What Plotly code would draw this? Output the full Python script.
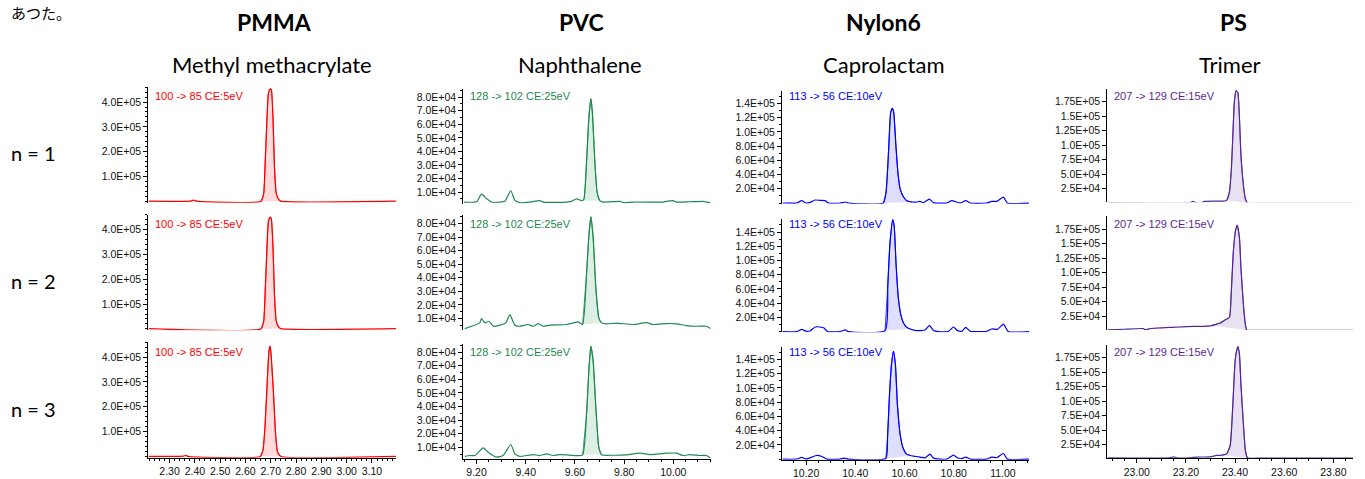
import numpy as np
import plotly.graph_objects as go

W, H = 1365, 479

compounds = ["PMMA", "PVC", "Nylon6", "PS"]
subtitles = ["Methyl methacrylate", "Naphthalene", "Caprolactam", "Trimer"]
row_labels = ["n = 1", "n = 2", "n = 3"]
transitions = ["100 -> 85 CE:5eV", "128 -> 102 CE:25eV", "113 -> 56 CE:10eV", "207 -> 129 CE:15eV"]
header_note = "あつた。"

# ---------------- PMMA (intensity in 1e5 counts) ----------------
pmma_t1 = [2.217, 2.382, 2.395, 2.408, 2.662, 2.672, 2.678, 2.685, 2.691, 2.698, 2.702, 2.709, 2.715, 2.722, 2.731, 2.740, 3.195]
pmma_i1 = [0.01, 0.01, 0.05, 0.01, 0.01, 0.31, 1.57, 3.31, 4.37, 4.53, 4.51, 3.31, 1.31, 0.31, 0.08, 0.01, 0.01]
pmma_t2 = [2.217, 2.662, 2.672, 2.678, 2.685, 2.691, 2.698, 2.702, 2.709, 2.715, 2.722, 2.731, 2.740, 3.195]
pmma_i2 = [0.01, 0.01, 0.30, 1.50, 3.25, 4.35, 4.50, 4.45, 3.25, 1.30, 0.30, 0.08, 0.01, 0.01]
pmma_t3 = [2.217, 2.355, 2.365, 2.373, 2.659, 2.669, 2.677, 2.685, 2.693, 2.698, 2.703, 2.711, 2.719, 2.727, 2.740, 3.195]
pmma_i3 = [0.0, 0.01, 0.04, 0.0, 0.0, 0.24, 1.17, 2.77, 4.24, 4.44, 3.84, 2.51, 0.91, 0.17, 0.0, 0.0]
pmma_peak = [(2.662, 2.740), (2.662, 2.740), (2.659, 2.740)]

# ---------------- PVC (intensity in 1e4 counts) ----------------
pvc_t1 = [9.148, 9.200, 9.220, 9.241, 9.261, 9.295, 9.315, 9.339, 9.356, 9.376, 9.417, 9.457, 9.471, 9.525, 9.566, 9.586,
          9.606, 9.627, 9.636, 9.647, 9.657, 9.665, 9.671, 9.681, 9.690, 9.701, 9.715, 9.783, 9.799, 9.837, 9.959, 9.972,
          9.999, 10.013, 10.067, 10.121, 10.151]
pvc_i1 = [0.27, 0.29, 0.85, 0.51, 0.27, 0.27, 0.32, 1.10, 0.39, 0.22, 0.27, 0.37, 0.27, 0.24, 0.27, 0.32,
          0.51, 0.37, 0.46, 3.2, 6.6, 7.88, 6.85, 3.2, 1.0, 0.37, 0.27, 0.32, 0.22, 0.27, 0.27, 0.32,
          0.37, 0.27, 0.29, 0.32, 0.22]
pvc_t2 = [9.152, 9.213, 9.220, 9.234, 9.251, 9.268, 9.295, 9.319, 9.335, 9.356, 9.376, 9.410, 9.430, 9.451, 9.471, 9.498,
          9.566, 9.593, 9.613, 9.631, 9.647, 9.657, 9.665, 9.674, 9.685, 9.697, 9.708, 9.728, 9.769, 9.837, 9.891, 9.918,
          9.972, 10.013, 10.054, 10.094, 10.135, 10.151]
pvc_i2 = [0.26, 0.68, 1.00, 0.68, 0.80, 0.43, 0.51, 0.68, 1.29, 0.51, 0.43, 0.56, 0.43, 0.63, 0.43, 0.51,
          0.56, 0.68, 0.75, 0.56, 4.25, 7.21, 8.49, 6.96, 3.26, 1.05, 0.68, 0.61, 0.66, 0.56, 0.70, 0.56,
          0.63, 0.61, 0.48, 0.43, 0.43, 0.26]
pvc_t3 = [9.152, 9.173, 9.193, 9.227, 9.247, 9.281, 9.308, 9.339, 9.356, 9.376, 9.403, 9.430, 9.457, 9.484, 9.512, 9.539,
          9.566, 9.593, 9.631, 9.647, 9.658, 9.665, 9.674, 9.685, 9.697, 9.708, 9.755, 9.810, 9.864, 9.905, 9.945, 9.972,
          10.013, 10.040, 10.067, 10.108, 10.135, 10.151]
pvc_i3 = [0.32, 0.39, 0.39, 0.95, 0.63, 0.27, 0.39, 1.20, 0.51, 0.32, 0.39, 0.46, 0.39, 0.51, 0.39, 0.46,
          0.44, 0.39, 0.44, 3.44, 7.10, 8.44, 7.34, 3.93, 1.00, 0.44, 0.41, 0.44, 0.56, 0.46, 0.51, 0.56,
          0.56, 0.39, 0.46, 0.39, 0.39, 0.20]
pvc_peak = [(9.627, 9.701), (9.631, 9.708), (9.631, 9.708)]

# ---------------- Nylon6 (intensity in 1e4 counts) ----------------
nylon_t1 = [10.105, 10.162, 10.182, 10.200, 10.216, 10.237, 10.257, 10.277, 10.291, 10.338, 10.359, 10.372, 10.514, 10.525,
            10.535, 10.544, 10.551, 10.556, 10.565, 10.573, 10.582, 10.596, 10.609, 10.630, 10.650, 10.663, 10.677, 10.701,
            10.718, 10.772, 10.792, 10.812, 10.826, 10.849, 10.867, 10.934, 10.955, 10.975, 11.002, 11.018, 11.108]
nylon_i1 = [0.0, 0.0, 0.33, 0.0, 0.09, 0.42, 0.37, 0.33, 0.0, 0.0, 0.14, 0.0, 0.0, 1.54,
            7.15, 12.76, 13.32, 12.76, 8.08, 4.35, 2.0, 0.84, 0.33, 0.14, 0.14, 0.23, 0.05, 0.56,
            0.05, 0.0, 0.33, 0.14, 0.0, 0.33, 0.0, 0.0, 0.23, 0.23, 0.84, 0.0, 0.0]
nylon_t2 = [10.105, 10.162, 10.182, 10.200, 10.216, 10.237, 10.257, 10.273, 10.287, 10.338, 10.359, 10.372, 10.521, 10.532,
            10.541, 10.552, 10.558, 10.566, 10.575, 10.585, 10.596, 10.609, 10.623, 10.650, 10.684, 10.701, 10.718, 10.738,
            10.779, 10.799, 10.815, 10.833, 10.849, 10.867, 10.934, 10.955, 10.978, 11.002, 11.022, 11.108]
nylon_i2 = [0.0, 0.0, 0.32, 0.05, 0.09, 0.65, 0.65, 0.51, 0.0, 0.0, 0.23, 0.0, 0.14, 6.51,
            12.51, 15.74, 14.82, 9.28, 4.66, 2.35, 1.20, 0.60, 0.37, 0.14, 0.23, 0.88, 0.14, 0.0,
            0.05, 0.65, 0.14, 0.05, 0.60, 0.05, 0.05, 0.37, 0.32, 1.06, 0.0, 0.0]
nylon_t3 = [10.105, 10.162, 10.182, 10.200, 10.223, 10.243, 10.264, 10.284, 10.338, 10.354, 10.372, 10.524, 10.531, 10.539,
            10.547, 10.555, 10.563, 10.571, 10.582, 10.593, 10.607, 10.623, 10.663, 10.684, 10.704, 10.718, 10.772, 10.799,
            10.815, 10.833, 10.849, 10.867, 10.934, 10.955, 10.975, 11.002, 11.018, 11.108]
nylon_i3 = [0.0, 0.0, 0.23, 0.0, 0.28, 0.51, 0.37, 0.0, 0.0, 0.14, 0.0, 0.09, 3.07, 9.12,
            13.30, 15.16, 13.30, 7.72, 3.53, 1.67, 0.74, 0.51, 0.28, 0.19, 0.70, 0.14, 0.0, 0.56,
            0.19, 0.09, 0.28, 0.0, 0.0, 0.28, 0.19, 0.79, 0.0, 0.0]
nylon_peak = [(10.514, 10.630), (10.521, 10.623), (10.524, 10.623)]

# ---------------- PS (intensity in 1e4 counts) ----------------
ps_t1 = [22.882, 23.217, 23.228, 23.241, 23.264, 23.274, 23.353, 23.366, 23.377, 23.385, 23.391, 23.397, 23.404, 23.411,
         23.418, 23.424, 23.434, 23.442, 23.450, 23.515, 23.881]
ps_i1 = [0.09, 0.09, 0.31, 0.09, 0.03, 0.31, 0.37, 0.49, 1.92, 5.93, 11.66, 17.38, 19.39, 19.10,
         14.52, 8.22, 3.06, 0.77, 0.03, 0.03, 0.03]
ps_t2 = [22.882, 22.946, 23.027, 23.034, 23.054, 23.149, 23.203, 23.271, 23.305, 23.319, 23.339, 23.359, 23.377, 23.384,
         23.393, 23.401, 23.409, 23.418, 23.424, 23.434, 23.442, 23.447, 23.515, 23.881]
ps_i2 = [0.15, 0.27, 0.38, 0.21, 0.38, 0.61, 0.73, 0.78, 0.90, 1.07, 1.35, 1.87, 2.33, 6.21,
         13.64, 17.07, 18.21, 15.93, 10.78, 4.50, 1.07, 0.15, 0.10, 0.10]
ps_t3 = [22.882, 23.135, 23.149, 23.163, 23.217, 23.244, 23.298, 23.325, 23.346, 23.366, 23.380, 23.386, 23.393, 23.400,
         23.407, 23.412, 23.418, 23.424, 23.434, 23.442, 23.450, 23.515, 23.881]
ps_i3 = [0.23, 0.23, 0.40, 0.23, 0.23, 0.34, 0.40, 0.63, 0.68, 0.91, 2.33, 5.45, 11.14, 16.82,
         18.81, 19.38, 17.95, 12.84, 6.02, 1.48, 0.23, 0.17, 0.17]
ps_peak = [(23.366, 23.450), (23.305, 23.447), (23.346, 23.450)]

# ---------------- tick labels ----------------
pmma_yticks = [1e5, 2e5, 3e5, 4e5]
pmma_yticktext = ["1.0E+05", "2.0E+05", "3.0E+05", "4.0E+05"]
pvc_yticks = [1e4, 2e4, 3e4, 4e4, 5e4, 6e4, 7e4, 8e4]
pvc_yticktext = ["1.0E+04", "2.0E+04", "3.0E+04", "4.0E+04", "5.0E+04", "6.0E+04", "7.0E+04", "8.0E+04"]
nylon_yticks = [2e4, 4e4, 6e4, 8e4, 10e4, 12e4, 14e4]
nylon_yticktext = ["2.0E+04", "4.0E+04", "6.0E+04", "8.0E+04", "1.0E+05", "1.2E+05", "1.4E+05"]
ps_yticks = [2.5e4, 5e4, 7.5e4, 10e4, 12.5e4, 15e4, 17.5e4]
ps_yticktext = ["2.5E+04", "5.0E+04", "7.5E+04", "1.0E+05", "1.25E+05", "1.5E+05", "1.75E+05"]

pmma_xticks = [2.3, 2.4, 2.5, 2.6, 2.7, 2.8, 2.9, 3.0, 3.1]
pmma_xticktext = ["2.30", "2.40", "2.50", "2.60", "2.70", "2.80", "2.90", "3.00", "3.10"]
pvc_xticks = [9.2, 9.4, 9.6, 9.8, 10.0]
pvc_xticktext = ["9.20", "9.40", "9.60", "9.80", "10.00"]
nylon_xticks = [10.2, 10.4, 10.6, 10.8, 11.0]
nylon_xticktext = ["10.20", "10.40", "10.60", "10.80", "11.00"]
ps_xticks = [23.0, 23.2, 23.4, 23.6, 23.8]
ps_xticktext = ["23.00", "23.20", "23.40", "23.60", "23.80"]

# ---------------- assemble ----------------
columns = [
    dict(t=[pmma_t1, pmma_t2, pmma_t3], i=[pmma_i1, pmma_i2, pmma_i3], unit=1e5, peak=pmma_peak,
         yt=pmma_yticks, ytt=pmma_yticktext, xt=pmma_xticks, xtt=pmma_xticktext,
         color="#ff0000", fill="rgba(255,0,0,0.14)", xr=[2.216, 3.195], px=(148.3, 396.0),
         s=25 / 1e5, zeros=[202.7, 331.0, 459.3], ylim=[-0.05e5, 4.6e5], ydm=0.2e5, xdm=0.02),
    dict(t=[pvc_t1, pvc_t2, pvc_t3], i=[pvc_i1, pvc_i2, pvc_i3], unit=1e4, peak=pvc_peak,
         yt=pvc_yticks, ytt=pvc_yticktext, xt=pvc_xticks, xtt=pvc_xticktext,
         color="#1e8a50", fill="rgba(30,138,80,0.15)", xr=[9.146, 10.152], px=(463.3, 710.7),
         s=13.66 / 1e4, zeros=[207.0, 334.2, 463.7], ylim=[0.15e4, 8.6e4], ydm=0.5e4, xdm=0.05),
    dict(t=[nylon_t1, nylon_t2, nylon_t3], i=[nylon_i1, nylon_i2, nylon_i3], unit=1e4, peak=nylon_peak,
         yt=nylon_yticks, ytt=nylon_yticktext, xt=nylon_xticks, xtt=nylon_xticktext,
         color="#0000ff", fill="rgba(0,0,255,0.13)", xr=[10.102, 11.106], px=(782.0, 1029.0),
         s=7.16 / 1e4, zeros=[204.3, 333.7, 462.0], ylim=[-0.1e4, 15.8e4], ydm=1e4, xdm=0.05),
    dict(t=[ps_t1, ps_t2, ps_t3], i=[ps_i1, ps_i2, ps_i3], unit=1e4, peak=ps_peak,
         yt=ps_yticks, ytt=ps_yticktext, xt=ps_xticks, xtt=ps_xticktext,
         color="#55289a", fill="rgba(85,40,154,0.14)", xr=[22.880, 23.880], px=(1107.3, 1353.0),
         s=5.84 / 1e4, zeros=[204.5, 332.9, 462.0], ylim=[0.15e4, 19.7e4], ydm=None, xdm=0.05),
]

fig = go.Figure()
layout = {}
annotations = []
tick_font = dict(family="Liberation Sans, Arial, sans-serif", size=10.5, color="#111111")
label_y_px = [97.0, 225.5, 354.0]

k = 0
for c, col in enumerate(columns):
    for r in range(3):
        k += 1
        xa = "x" if k == 1 else f"x{k}"
        ya = "y" if k == 1 else f"y{k}"
        t = np.array(col["t"][r])
        v = np.array(col["i"][r]) * col["unit"]
        a, b = col["peak"][r]
        m = (t >= a - 1e-9) & (t <= b + 1e-9)
        fig.add_trace(go.Scatter(x=t[m], y=v[m], mode="lines", fill="toself", fillcolor=col["fill"],
                                 line=dict(color=col["color"], width=0.8, shape="spline", smoothing=0.5),
                                 xaxis=xa, yaxis=ya, showlegend=False, hoverinfo="skip"))
        fig.add_trace(go.Scatter(x=t, y=v, mode="lines",
                                 line=dict(color=col["color"], width=1.2, shape="spline", smoothing=0.5),
                                 xaxis=xa, yaxis=ya, showlegend=False))
        z = col["zeros"][r]
        bot = z - col["ylim"][0] * col["s"]
        top = z - col["ylim"][1] * col["s"]
        x0, x1 = col["px"]
        xkey = "xaxis" if k == 1 else f"xaxis{k}"
        ykey = "yaxis" if k == 1 else f"yaxis{k}"
        bottom_row = (r == 2)
        xdict = dict(domain=[x0 / W, x1 / W], range=col["xr"], anchor=ya, showgrid=False, zeroline=False,
                     visible=bottom_row)
        if bottom_row:
            xdict.update(showline=True, linecolor="#000000", linewidth=1, ticks="outside", ticklen=4,
                         tickcolor="#000000", tickvals=col["xt"], ticktext=col["xtt"], tickfont=tick_font,
                         minor=dict(ticks="outside", ticklen=2, dtick=col["xdm"], tickcolor="#000000"))
        layout[xkey] = xdict
        ydict = dict(domain=[1 - bot / H, 1 - top / H], range=col["ylim"], anchor=xa, showgrid=False,
                     zeroline=False, showline=True, linecolor="#000000", linewidth=1, ticks="outside",
                     ticklen=4, tickcolor="#000000", tickvals=col["yt"], ticktext=col["ytt"], tickfont=tick_font)
        if col["ydm"]:
            ydict["minor"] = dict(ticks="outside", ticklen=2, dtick=col["ydm"], tickcolor="#000000")
        layout[ykey] = ydict
        annotations.append(dict(text=transitions[c], x=(x0 + 5) / W, y=1 - label_y_px[r] / H, xref="paper",
                                yref="paper", xanchor="left", yanchor="middle", showarrow=False,
                                font=dict(family="Liberation Sans, Arial, sans-serif", size=11, color=col["color"])))

title_x = [274, 581, 883, 1233]
sub_x = [272, 580, 884, 1230]
for c in range(4):
    annotations.append(dict(text=f"<b>{compounds[c]}</b>", x=title_x[c] / W, y=1 - 22 / H, xref="paper",
                            yref="paper", xanchor="center", yanchor="middle", showarrow=False,
                            font=dict(family="Lato, sans-serif", size=23, color="#000000")))
    annotations.append(dict(text=subtitles[c], x=sub_x[c] / W, y=1 - 65 / H, xref="paper", yref="paper",
                            xanchor="center", yanchor="middle", showarrow=False,
                            font=dict(family="Lato, sans-serif", size=22, color="#000000")))
row_y = [154, 283, 412]
for r in range(3):
    annotations.append(dict(text=row_labels[r], x=9 / W, y=1 - row_y[r] / H, xref="paper", yref="paper",
                            xanchor="left", yanchor="middle", showarrow=False,
                            font=dict(family="Lato, sans-serif", size=20, color="#000000")))
annotations.append(dict(text=header_note, x=9 / W, y=1.0, xref="paper", yref="paper",
                        xanchor="left", yanchor="top", showarrow=False,
                        font=dict(family="Noto Sans CJK JP, sans-serif", size=15, color="#000000")))

fig.update_layout(width=W, height=H, margin=dict(l=0, r=0, t=0, b=0), paper_bgcolor="white",
                  plot_bgcolor="rgba(0,0,0,0)", annotations=annotations, **layout)
fig.write_html("out.html")
